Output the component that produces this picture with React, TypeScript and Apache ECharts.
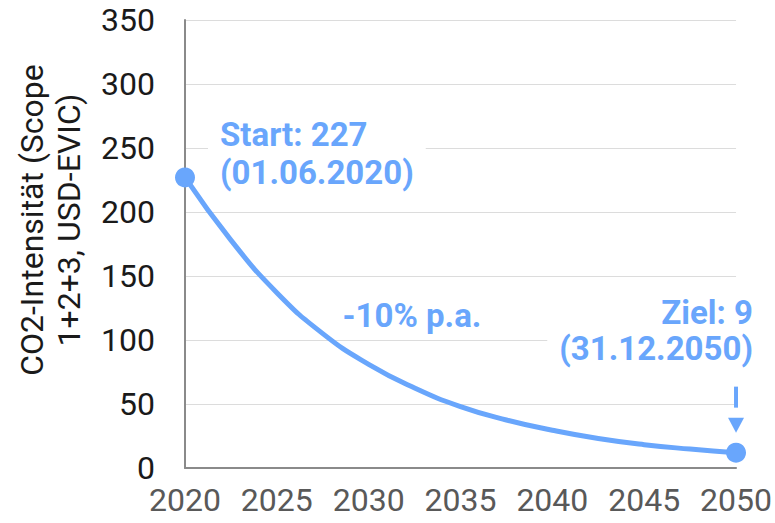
import React, { useEffect, useRef } from "react";
import * as echarts from "echarts";

const years = [2020, 2022.5, 2025, 2027.5, 2030, 2032.5, 2035, 2037.5, 2040, 2042.5, 2045, 2047.5, 2050];
const intensity = [227, 178, 137, 105, 81, 62.5, 48, 37.5, 29.5, 23, 18.2, 14.8, 12];
const yTicks = [0, 50, 100, 150, 200, 250, 300, 350];
const yTitle = "CO2-Intensität (Scope\n1+2+3, USD-EVIC)";
const startLabel = "Start: 227\n(01.06.2020)";
const targetLabel = "Ziel: 9\n(31.12.2050)";
const rateLabel = "-10% p.a.";

const BLUE = "#69a6fc";
const FONT = "Roboto, 'Liberation Sans', Arial, sans-serif";

export default function App() {
  const ref = useRef<HTMLDivElement>(null);
  useEffect(() => {
    if (!ref.current) return;
    const chart = echarts.init(ref.current, undefined, { renderer: "svg" });
    const lineData = years.map((y, i) => [y, intensity[i]]);
    const ends = [lineData[0], lineData[lineData.length - 1]];
    chart.setOption({
      animation: false,
      textStyle: { fontFamily: FONT },
      grid: { left: 185, right: 30, top: 20, bottom: 55, containLabel: false },
      xAxis: {
        type: "value",
        min: 2020,
        max: 2050,
        interval: 5,
        axisLine: { show: true, lineStyle: { color: "#8a8a8a", width: 2 } },
        axisTick: { show: false },
        splitLine: { show: false },
        axisLabel: {
          color: "#595959",
          fontSize: 32,
          fontFamily: FONT,
          margin: 16,
          formatter: (v: number) => String(v),
        },
      },
      yAxis: {
        type: "value",
        min: yTicks[0],
        max: yTicks[yTicks.length - 1],
        interval: 50,
        axisLine: { show: true, lineStyle: { color: "#8a8a8a", width: 2 } },
        axisTick: { show: false },
        splitLine: { show: true, lineStyle: { color: "#dcdcdc", width: 1 } },
        axisLabel: { color: "#1a1a1a", fontSize: 32, fontFamily: FONT, margin: 30 },
      },
      series: [
        {
          type: "line",
          data: lineData,
          smooth: 0.5,
          showSymbol: false,
          lineStyle: { color: BLUE, width: 5 },
          z: 3,
        },
        {
          type: "scatter",
          data: ends,
          symbolSize: 20,
          itemStyle: { color: BLUE, opacity: 1 },
          z: 4,
        },
      ],
    });
    const last = chart.convertToPixel({ gridIndex: 0 }, ends[1]) as number[];
    chart.setOption({
      graphic: [
        {
          type: "text",
          x: 50,
          y: 220,
          rotation: Math.PI / 2,
          style: {
            text: yTitle,
            font: `32px ${FONT}`,
            fill: "#1a1a1a",
            textAlign: "center",
            textVerticalAlign: "middle",
            lineHeight: 37,
          },
        },
        {
          type: "text",
          x: 208,
          y: 153,
          z: 100,
          style: {
            text: startLabel,
            font: `bold 33px ${FONT}`,
            fill: BLUE,
            textAlign: "left",
            textVerticalAlign: "middle",
            lineHeight: 38,
            backgroundColor: "#ffffff",
            padding: [0, 12],
          },
        },
        {
          type: "text",
          x: 412,
          y: 315,
          z: 100,
          style: {
            text: rateLabel,
            font: `bold 33px ${FONT}`,
            fill: BLUE,
            textAlign: "center",
            textVerticalAlign: "middle",
            backgroundColor: "#ffffff",
            padding: [0, 6],
          },
        },
        {
          type: "text",
          x: 765,
          y: 330,
          z: 100,
          style: {
            text: targetLabel,
            font: `bold 33px ${FONT}`,
            fill: BLUE,
            textAlign: "right",
            textVerticalAlign: "middle",
            lineHeight: 36,
            backgroundColor: "#ffffff",
            padding: [0, 12],
          },
        },
        {
          type: "rect",
          z: 100,
          shape: { x: last[0] - 2, y: last[1] - 66, width: 4, height: 21 },
          style: { fill: BLUE },
        },
        {
          type: "polygon",
          z: 100,
          shape: {
            points: [
              [last[0] - 8, last[1] - 35],
              [last[0] + 8, last[1] - 35],
              [last[0], last[1] - 20],
            ],
          },
          style: { fill: BLUE },
        },
      ],
    });
    return () => chart.dispose();
  }, []);
  return (
    <div
      ref={ref}
      style={{ position: "fixed", left: 0, top: 0, width: 775, height: 523, background: "#fff" }}
    />
  );
}
